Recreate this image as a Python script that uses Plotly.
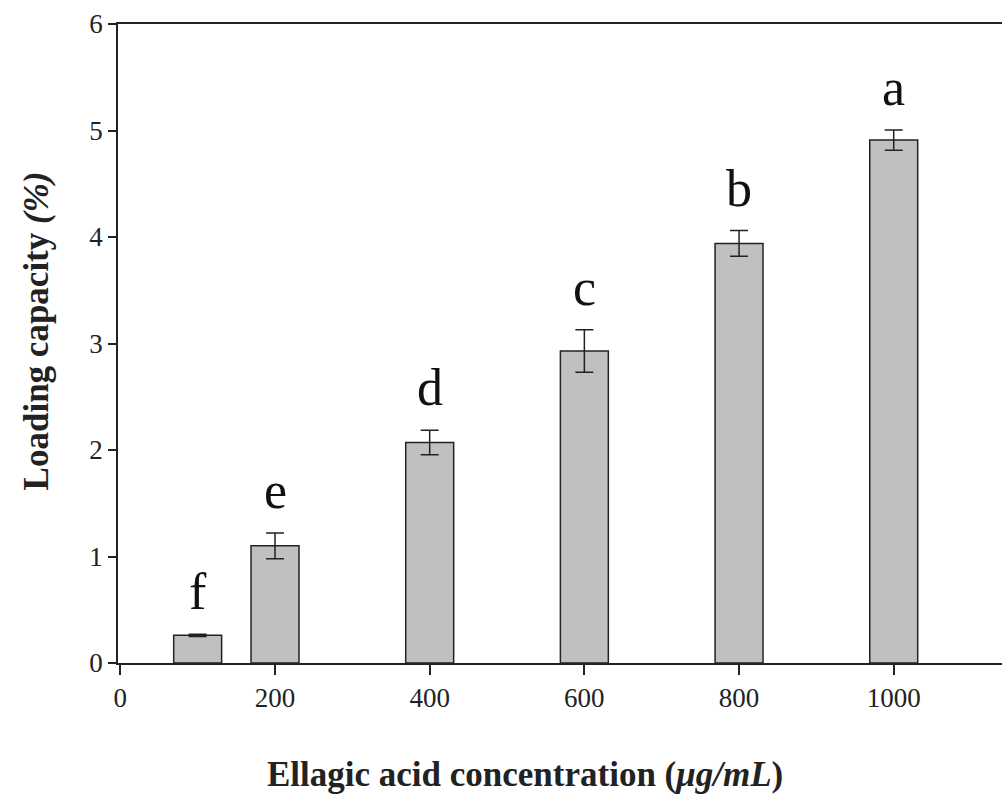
import plotly.graph_objects as go

concentrations = [100, 200, 400, 600, 800, 1000]
loading = [0.26, 1.10, 2.07, 2.93, 3.94, 4.91]
errors = [0.01, 0.12, 0.115, 0.20, 0.12, 0.095]
letters = ["f", "e", "d", "c", "b", "a"]
tick_vals = [0, 200, 400, 600, 800, 1000]

fig = go.Figure()
fig.add_trace(go.Bar(
    x=concentrations, y=loading, width=62,
    marker=dict(color="#c0c0c0", line=dict(color="#222222", width=1.5)),
    error_y=dict(type="data", array=errors, visible=True, color="#222222", thickness=1.5, width=9),
    showlegend=False,
))

for xv, yv, ev, lt in zip(concentrations, loading, errors, letters):
    fig.add_annotation(x=xv, y=yv + ev, text=lt, showarrow=False, yanchor="bottom",
                       yshift=12, font=dict(family="Liberation Serif", size=52, color="#111111"))

font_tick = dict(family="Liberation Serif", size=27, color="#222222")
fig.update_layout(
    width=1002, height=802,
    margin=dict(l=118, r=0, t=24, b=139),
    plot_bgcolor="white", paper_bgcolor="white",
    xaxis=dict(range=[-3, 1140], tickvals=tick_vals, ticks="outside", ticklen=10,
               tickwidth=1.5, tickcolor="#222222", showline=True, linecolor="#222222",
               linewidth=1.5, mirror=True, showgrid=False, zeroline=False,
               tickfont=font_tick),
    yaxis=dict(range=[0, 6], tickvals=[0, 1, 2, 3, 4, 5, 6], ticks="outside", ticklen=8,
               tickwidth=1.5, tickcolor="#222222", showline=True, linecolor="#222222",
               linewidth=1.5, showgrid=False, zeroline=False, tickfont=font_tick),
)

fig.add_annotation(xref="paper", yref="paper", x=0.46, y=-0.175, yanchor="middle",
                   text="<b>Ellagic acid concentration (<i>μg/mL</i>)</b>", showarrow=False,
                   font=dict(family="Liberation Serif", size=35, color="#222222"))
fig.add_annotation(xref="paper", yref="paper", x=-0.092, xanchor="center", y=0.52,
                   text="<b>Loading capacity <i>(%)</i></b>", showarrow=False, textangle=-90,
                   font=dict(family="Liberation Serif", size=35, color="#222222"))

fig.write_html("out.html")
